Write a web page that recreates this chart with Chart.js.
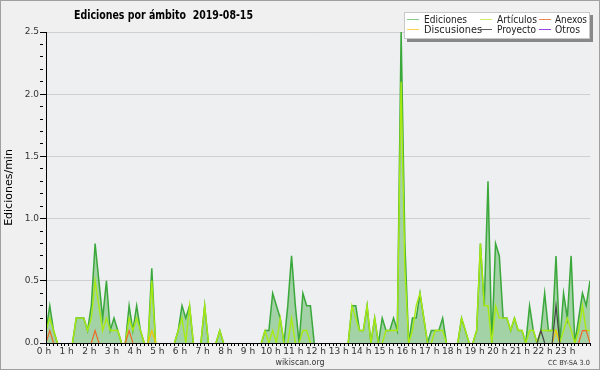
<!DOCTYPE html>
<html lang="es">
<head>
<meta charset="UTF-8">
<title>Ediciones por ámbito 2019-08-15</title>
<style>
  body { margin: 0; background: #f0f0f0; }
  #wrap { width: 600px; height: 370px; }
</style>
</head>
<body>
<div id="wrap"><canvas id="myChart" width="600" height="370"></canvas></div>

<script src="https://cdn.jsdelivr.net/npm/chart.js@4.4.1/dist/chart.umd.min.js"></script>
<script>
// one value per 10 minutes, 00:00 .. 24:00 (edits per minute)
const ediciones = [
  0.1, 0.3, 0.1, 0, 0, 0, 0, 0, 0.2, 0.2, 0.2, 0.1, 0.3, 0.8, 0.5, 0.2, 0.5, 0.1,
  0.2, 0.1, 0, 0, 0.3, 0.1, 0.3, 0.1, 0, 0, 0.6, 0, 0, 0, 0, 0, 0, 0.1,
  0.3, 0.2, 0.3, 0, 0, 0, 0.3, 0, 0, 0, 0.1, 0, 0, 0, 0, 0, 0, 0,
  0, 0, 0, 0, 0.1, 0.1, 0.4, 0.3, 0.2, 0, 0.3, 0.7, 0.3, 0, 0.4, 0.3, 0.3, 0,
  0, 0, 0, 0, 0, 0, 0, 0, 0, 0.3, 0.3, 0.1, 0.1, 0.3, 0, 0.2, 0, 0.2,
  0.1, 0.1, 0.2, 0.1, 2.5, 0.8, 0, 0.2, 0.2, 0.4, 0.2, 0, 0.1, 0.1, 0.1, 0.2, 0, 0,
  0, 0, 0.2, 0.1, 0, 0, 0.1, 0.8, 0.3, 1.3, 0, 0.8, 0.7, 0.2, 0.2, 0.1, 0.2, 0.1,
  0.1, 0, 0.3, 0.1, 0, 0.1, 0.4, 0.1, 0.1, 0.7, 0, 0.4, 0.2, 0.7, 0, 0.2, 0.4, 0.3,
  0.5
];
const articulos = [
  0.1, 0.2, 0.1, 0, 0, 0, 0, 0, 0.2, 0.2, 0.2, 0.1, 0.2, 0.5, 0.3, 0.1, 0.2, 0.1,
  0.1, 0.1, 0, 0, 0.2, 0.1, 0.2, 0.1, 0, 0, 0.5, 0, 0, 0, 0, 0, 0, 0.1,
  0.2, 0, 0.3, 0, 0, 0, 0.3, 0, 0, 0, 0.1, 0, 0, 0, 0, 0, 0, 0,
  0, 0, 0, 0, 0.1, 0, 0.1, 0, 0.2, 0, 0, 0.2, 0, 0, 0.1, 0.1, 0, 0,
  0, 0, 0, 0, 0, 0, 0, 0, 0, 0.3, 0.2, 0.1, 0.1, 0.3, 0, 0.2, 0, 0,
  0.1, 0.1, 0.1, 0.1, 2.1, 0.6, 0, 0.1, 0.3, 0.4, 0.2, 0, 0, 0.1, 0.1, 0.1, 0, 0,
  0, 0, 0.2, 0.1, 0, 0, 0.1, 0.8, 0.3, 0.3, 0, 0.3, 0.2, 0.2, 0.2, 0.1, 0.2, 0.1,
  0.1, 0, 0.1, 0.1, 0, 0.1, 0.1, 0.1, 0.1, 0.1, 0, 0.1, 0.2, 0.1, 0, 0.1, 0.3, 0.1,
  0.1
];
// sparse series: slot index -> value, everything else is 0
const anexosSlots = [1, 13, 22, 142, 143];
const anexosVals = [0.1, 0.1, 0.1, 0.1, 0.1];
const discusionesSlots = [28, 135];
const discusionesVals = [0.1, 0.1];
const proyectoSlots = [131, 135];
const proyectoVals = [0.1, 0.3];
const otrosSlots = [];
const otrosVals = [];

const hourLabels = ['0 h', '1 h', '2 h', '3 h', '4 h', '5 h', '6 h', '7 h', '8 h', '9 h', '10 h', '11 h',
  '12 h', '13 h', '14 h', '15 h', '16 h', '17 h', '18 h', '19 h', '20 h', '21 h', '22 h', '23 h'];

const seriesNames = ['Ediciones', 'Artículos', 'Anexos', 'Discusiones', 'Proyecto', 'Otros'];
const legendColors = ['#88cc88', '#ccee66', '#ee8855', '#ffd050', '#606060', '#9944ee'];

const slots = ediciones.map((v, i) => i);

function dense(idx, vals) {
  const out = slots.map(() => 0);
  idx.forEach((k, j) => { out[k] = vals[j]; });
  return out;
}
const toXY = arr => arr.map((v, i) => ({ x: i, y: v }));

// hide the parts of a line that lie flat on the x axis
const hideFlat = { borderColor: c => (c.p0.parsed.y === 0 && c.p1.parsed.y === 0) ? 'rgba(0,0,0,0)' : undefined };

const FONT = '"DejaVu Sans Condensed", "DejaVu Sans", sans-serif';

function fitText(ctx, text, x, y, font, width, align) {
  ctx.save();
  ctx.font = font;
  const k = width / ctx.measureText(text).width;
  ctx.translate(x, y);
  ctx.scale(k, 1);
  ctx.textAlign = align || 'left';
  ctx.textBaseline = 'alphabetic';
  ctx.fillText(text, 0, 0);
  ctx.restore();
}

const decor = {
  id: 'decor',
  beforeDraw(chart) {
    const c = chart.ctx, a = chart.chartArea;
    c.save();
    c.fillStyle = '#f0f0f0';
    c.fillRect(0, 0, chart.width, chart.height);
    c.fillStyle = '#edeff1';
    c.fillRect(a.left, a.top, a.right - a.left, a.bottom - a.top);
    c.restore();
  },
  afterDraw(chart) {
    const c = chart.ctx;
    c.save();
    // title
    c.fillStyle = '#000';
    fitText(c, 'Ediciones por ámbito  2019-08-15', 74, 19, 'bold 12.5px ' + FONT, 179);

    // legend box
    c.fillStyle = '#888';
    c.fillRect(407, 15, 186, 27);
    c.fillStyle = '#fff';
    c.fillRect(404, 12, 186, 27);
    c.strokeStyle = '#c8c8c8';
    c.lineWidth = 1;
    c.strokeRect(404.5, 12.5, 185, 26);

    const cols = [[407, 424], [480, 497], [539, 555]];
    const rows = [19.5, 29.5];
    const widths = { 'Ediciones': 43, 'Discusiones': 58, 'Artículos': 40, 'Proyecto': 39, 'Anexos': 32, 'Otros': 25 };
    const order = [[0, 3], [1, 4], [2, 5]]; // column -> [row1, row2]
    order.forEach((pair, ci) => {
      pair.forEach((si, ri) => {
        const y = rows[ri];
        c.strokeStyle = legendColors[si];
        c.lineWidth = 1;
        c.beginPath();
        c.moveTo(cols[ci][0], y);
        c.lineTo(cols[ci][0] + 12, y);
        c.stroke();
        c.fillStyle = '#222';
        fitText(c, seriesNames[si], cols[ci][1], y + 3.5, '10.5px ' + FONT, widths[seriesNames[si]]);
      });
    });

    // footer
    c.fillStyle = '#333';
    fitText(c, 'wikiscan.org', 300, 365, '9px ' + FONT, 49, 'center');
    fitText(c, 'CC BY-SA 3.0', 548, 365, '7px ' + FONT, 42);

    // frame
    c.strokeStyle = '#a0a0a0';
    c.lineWidth = 1;
    c.strokeRect(0.5, 0.5, 599, 369);
    c.restore();
  }
};

const isMajorY = v => Math.round(v * 10) % 5 === 0;

const ctx = document.getElementById('myChart').getContext('2d');

const chart = new Chart(ctx, {
  type: 'line',
  data: {
    datasets: [
      { label: seriesNames[5], data: toXY(dense(otrosSlots, otrosVals)), borderColor: '#9933ee', borderWidth: 1, fill: false, order: 1, segment: hideFlat },
      { label: seriesNames[4], data: toXY(dense(proyectoSlots, proyectoVals)), borderColor: '#444444', borderWidth: 1.2, fill: false, order: 2, segment: hideFlat },
      { label: seriesNames[2], data: toXY(dense(anexosSlots, anexosVals)), borderColor: '#ee6a2a', borderWidth: 1.2, fill: false, order: 3, segment: hideFlat },
      { label: seriesNames[3], data: toXY(dense(discusionesSlots, discusionesVals)), borderColor: '#f5c400', borderWidth: 1.2, fill: false, order: 4, segment: hideFlat },
      { label: seriesNames[1], data: toXY(articulos), borderColor: '#a8ea12', borderWidth: 1.4, fill: false, order: 5, segment: hideFlat },
      { label: seriesNames[0], data: toXY(ediciones), borderColor: '#3aa83a', backgroundColor: 'rgba(60,170,60,0.42)',
        borderWidth: 1.5, fill: 'origin', order: 6, segment: hideFlat }
    ]
  },
  options: {
    responsive: false,
    animation: false,
    devicePixelRatio: 1,
    layout: { padding: { top: 32, right: 10, left: 0, bottom: 0 } },
    plugins: { legend: { display: false }, tooltip: { enabled: false }, title: { display: false } },
    elements: { point: { radius: 0 }, line: { tension: 0 } },
    scales: {
      x: {
        type: 'linear',
        min: 0,
        max: 144,
        afterBuildTicks: s => { s.ticks = slots.map(v => ({ value: v })); },
        afterFit: s => { s.height = 27; },
        ticks: {
          autoSkip: false,
          maxRotation: 0,
          padding: 0,
          labelOffset: -2,
          color: '#333',
          font: { family: '"DejaVu Sans", sans-serif', size: 9 },
          callback: v => (v % 6 === 0 && v < 144) ? hourLabels[v / 6] : ''
        },
        grid: { drawOnChartArea: false, tickLength: 3, tickColor: '#000' },
        border: { color: '#000', width: 1, z: 1 }
      },
      y: {
        min: 0,
        max: 2.5,
        afterBuildTicks: s => {
          const t = [];
          for (let k = 0; k <= 25; k++) t.push({ value: k / 10 });
          s.ticks = t;
        },
        afterFit: s => { s.width = 46; },
        ticks: {
          autoSkip: false,
          padding: 1,
          color: '#333',
          font: { family: '"DejaVu Sans", sans-serif', size: 9 },
          callback: v => isMajorY(v) ? v.toFixed(1) : ''
        },
        grid: {
          color: c => (c.tick && c.tick.value > 0 && isMajorY(c.tick.value)) ? '#cfcfcf' : 'rgba(0,0,0,0)',
          tickColor: '#000',
          tickLength: 6,
          tickBorderDash: c => (c.tick && isMajorY(c.tick.value)) ? [] : [3, 20]
        },
        border: { color: '#000', width: 1, z: 1 },
        title: {
          display: true,
          text: 'Ediciones/min',
          color: '#000',
          font: { family: '"DejaVu Sans", sans-serif', size: 11 },
          padding: { top: 3, bottom: 0 }
        }
      }
    }
  },
  plugins: [decor]
});
</script>
</body>
</html>
